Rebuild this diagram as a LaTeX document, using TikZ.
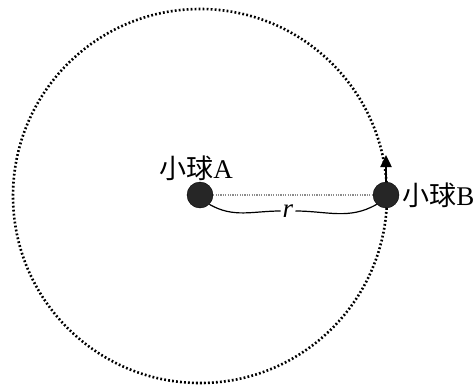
\documentclass[tikz,border=0pt]{standalone}
\usepackage{fontspec}
\setmainfont{Liberation Serif}
\newfontfamily\cjk{Noto Sans CJK SC}
\newcommand\bigtxt{\fontsize{27}{32}\selectfont}
\usetikzlibrary{arrows.meta,positioning}
\begin{document}
\begin{tikzpicture}[
   x=1pt,y=-1pt,
   ball/.style ={circle,fill=black!85,draw=black,minimum size=26pt,inner sep=0pt},
   lab/.style  ={inner sep=0pt,font=\bigtxt},
   orbit/.style={line width=2.6pt,dash pattern=on 1.8pt off 2.2pt},
   link/.style ={draw=black!45,line width=1.4pt,dash pattern=on 1.2pt off 1.2pt},
   rl/.style   ={draw=black,line width=1.2pt},
   vel/.style  ={-{Triangle[length=12pt,width=11pt]},line width=2.4pt}
  ]
  \useasboundingbox (0,0) rectangle (476,388);
  % orbit
  \coordinate (O) at (200,196);
  \draw[orbit] (O) circle[radius=187];

  % balls
  \node[ball] (A) at (200,195) {};
  \node[ball] (B) at (386,195) {};
  \node[lab,above=1pt of A,xshift=-4pt] (la) {{\cjk 小球}A};
  \node[lab,right=3pt of B] (lb) {{\cjk 小球}B};

  % velocity
  \coordinate (v) at (386,155);
  \draw[vel] (B.north) -- (v);

  % distance
  \draw[link] (A) -- (B);
  \node[lab,inner sep=2pt] (r) at (288,211) {\textit{r}};
  \draw[rl] (A.-45) to[out=-30,in=180] (r.west);
  \draw[rl] (r.east) to[out=0,in=-150] (B.-135);
\end{tikzpicture}
\end{document}
